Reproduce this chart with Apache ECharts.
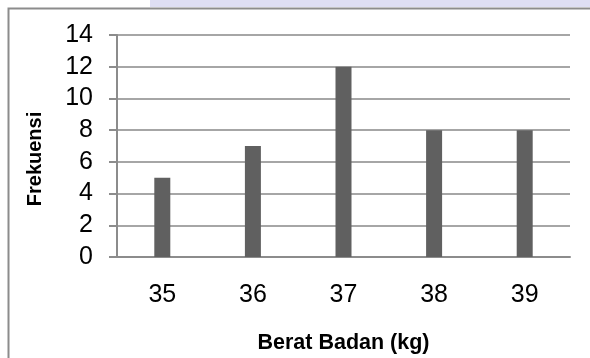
<!DOCTYPE html>
<html>
<head>
<meta charset="utf-8">
<script src="https://cdn.jsdelivr.net/npm/echarts@6/dist/echarts.min.js"></script>
<style>
  html, body { margin: 0; padding: 0; background: #ffffff; }
  #chart { width: 590px; height: 358px; }
</style>
</head>
<body>
<div id="chart"></div>
<script>
// Body-weight frequency data
const categories = ['35', '36', '37', '38', '39'];
const frequencies = [5, 7, 12, 8, 8];
const yTicks = { min: 0, max: 14, interval: 2 };
const xTitle = 'Berat Badan (kg)';
const yTitle = 'Frekuensi';

const chart = echarts.init(document.getElementById('chart'), null, { renderer: 'canvas' });

const tickFont = '"Liberation Sans Narrow", "Arial Narrow", sans-serif';
const titleFont = '"Liberation Sans", Arial, sans-serif';

chart.setOption({
  animation: false,
  backgroundColor: '#ffffff',
  graphic: [
    {
      type: 'rect',
      shape: { x: 150, y: 0, width: 440, height: 7 },
      style: { fill: '#dedef3' },
      silent: true
    },
    {
      type: 'rect',
      shape: { x: 8.5, y: 8.5, width: 640, height: 400 },
      style: { fill: 'none', stroke: '#8c8c8c', lineWidth: 2 },
      silent: true
    }
  ],
  grid: {
    left: 117, right: 20, top: 35, bottom: 101,
    containLabel: false,
    outerBoundsMode: 'none'
  },
  xAxis: {
    type: 'category',
    data: categories,
    name: xTitle,
    nameLocation: 'middle',
    nameGap: 75,
    nameTextStyle: { fontFamily: titleFont, fontWeight: 'bold', fontSize: 21.5, color: '#000' },
    axisLine: { lineStyle: { color: '#8c8c8c', width: 2 } },
    axisTick: { show: false },
    axisLabel: { fontFamily: tickFont, fontSize: 25, color: '#000', margin: 26 }
  },
  yAxis: {
    type: 'value',
    min: yTicks.min,
    max: yTicks.max,
    interval: yTicks.interval,
    name: yTitle,
    nameLocation: 'middle',
    nameGap: 72,
    nameRotate: 90,
    nameTextStyle: {
      fontFamily: titleFont, fontWeight: 'bold', fontSize: 20, color: '#000',
      padding: [0, 26, 0, 0]
    },
    axisLine: { show: true, lineStyle: { color: '#8c8c8c', width: 2 } },
    axisTick: { show: true, length: 8, lineStyle: { color: '#8c8c8c', width: 2 } },
    axisLabel: { fontFamily: tickFont, fontSize: 25, color: '#000', margin: 24 },
    splitLine: { lineStyle: { color: '#a6a6a6', width: 2 } }
  },
  series: [{
    type: 'bar',
    data: frequencies,
    barWidth: 16,
    itemStyle: { color: '#606060' }
  }]
});
</script>
</body>
</html>
